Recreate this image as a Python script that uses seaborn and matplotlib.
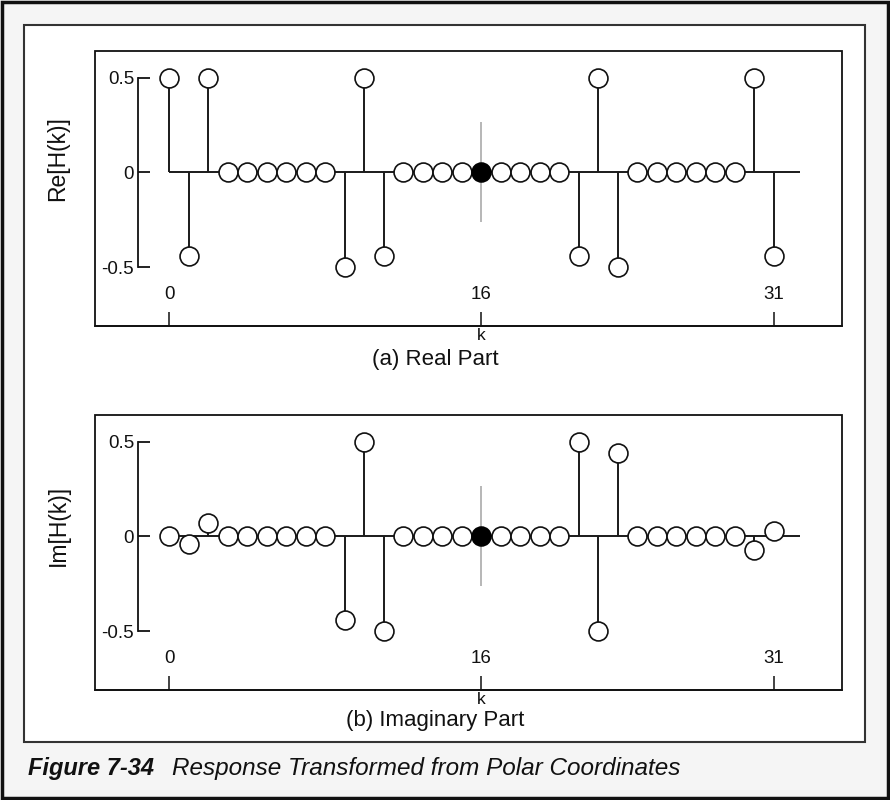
import numpy as np
import matplotlib
matplotlib.use('Agg')
import matplotlib.pyplot as plt
import seaborn as sns
from matplotlib.patches import Rectangle

# DFT bins and the two parts of H(k)
k_vals = list(range(32))
re_vals = [0.5, -0.44, 0.5, 0, 0, 0, 0, 0, 0, -0.5, 0.5, -0.44, 0, 0, 0, 0,
           0, 0, 0, 0, 0, -0.44, 0.5, -0.5, 0, 0, 0, 0, 0, 0, 0.5, -0.44]
im_vals = [0, -0.04, 0.07, 0, 0, 0, 0, 0, 0, -0.44, 0.5, -0.5, 0, 0, 0, 0,
           0, 0, 0, 0, 0, 0.5, -0.5, 0.44, 0, 0, 0, 0, 0, 0, -0.07, 0.03]
filled_k = 16
x_ticks = [0, 16, 31]
y_ticks = [-0.5, 0, 0.5]
y_ticklabels = ['-0.5', '0', '0.5']
panel_ylabels = ['Re[H(k)]', 'Im[H(k)]']
panel_titles = ['(a) Real Part', '(b) Imaginary Part']

sns.set_theme(style='white')
plt.rcParams['font.family'] = ['Liberation Sans', 'DejaVu Sans']

fig = plt.figure(figsize=(8.9, 8), dpi=100)
fig.patch.set_facecolor('#f5f5f5')

# outer frame and white panel
fig.patches.append(Rectangle((0.002, 0.003), 0.996, 0.994, transform=fig.transFigure,
                             fill=False, edgecolor='#111111', linewidth=2.5, zorder=-2))
fig.patches.append(Rectangle((24 / 890, 1 - 742 / 800), 841 / 890, 717 / 800,
                             transform=fig.transFigure, facecolor='white',
                             edgecolor='#333333', linewidth=1.5, zorder=-1))

boxes = [(95, 51, 842, 326), (95, 415, 842, 690)]
title_y = [-0.12, -0.112]
ylabel_y = [159, 525]

for i, vals in enumerate([re_vals, im_vals]):
    x0, y0, x1, y1 = boxes[i]
    ax = fig.add_axes([x0 / 890, 1 - y1 / 800, (x1 - x0) / 890, (y1 - y0) / 800])
    ax.set_facecolor('none')

    # baseline, stems and the gray marker line at k=16
    ax.hlines(0, 0, 32.33, color='#1a1a1a', linewidth=1.4, zorder=2)
    ax.vlines(k_vals, 0, vals, color='#1a1a1a', linewidth=1.4, zorder=2)
    ax.vlines(filled_k, -0.26, 0.265, color='#aaaaaa', linewidth=1.2, zorder=1)

    open_k = [k for k in k_vals if k != filled_k]
    open_v = [vals[k] for k in open_k]
    sns.scatterplot(x=open_k, y=open_v, s=185, color='white', edgecolor='#111111',
                    linewidth=1.2, zorder=3, ax=ax, legend=False)
    sns.scatterplot(x=[filled_k], y=[vals[filled_k]], s=185, color='black',
                    edgecolor='black', linewidth=1.2, zorder=4, ax=ax, legend=False)

    ax.set_xlim(-3.81, 34.49)
    ax.set_ylim(-0.81, 0.64)

    # box around the panel
    ax.add_patch(Rectangle((0, 0), 1, 1, transform=ax.transAxes, fill=False,
                           edgecolor='#111111', linewidth=1.3, clip_on=False, zorder=5))
    for side in ['top', 'right']:
        ax.spines[side].set_visible(False)
    ax.spines['bottom'].set_color('#111111')
    ax.spines['left'].set_position(('data', -1.59))
    ax.spines['left'].set_bounds(-0.5, 0.5)
    ax.spines['left'].set_color('#111111')
    ax.spines['left'].set_linewidth(1.3)

    ax.set_yticks(y_ticks)
    ax.set_yticklabels(y_ticklabels)
    ax.set_xticks(x_ticks)
    ax.set_xticklabels([str(t) for t in x_ticks])
    ax.tick_params(axis='y', direction='in', length=8.5, width=1.3, pad=3,
                   labelsize=13.5, colors='#111111', left=True)
    ax.tick_params(axis='x', direction='in', length=10, width=1.1, pad=-29,
                   labelsize=13.5, colors='#111111', bottom=True)
    ax.set_xlabel('')
    ax.set_ylabel('')

    ax.annotate('k', xy=(filled_k, -0.006), xycoords=('data', 'axes fraction'),
                ha='center', va='top', fontsize=12.5, color='#111111', annotation_clip=False)
    ax.text(0.455, title_y[i], panel_titles[i], transform=ax.transAxes,
            ha='center', va='center', fontsize=16, color='#111111')
    fig.text(58 / 890, 1 - ylabel_y[i] / 800, panel_ylabels[i], rotation=90,
             ha='center', va='center', fontsize=16.5, color='#111111')

fig.text(28 / 890, 1 - 769 / 800, 'Figure 7-34', fontsize=17, fontweight='bold',
         fontstyle='italic', ha='left', va='center', color='#111111')
fig.text(172 / 890, 1 - 769 / 800, 'Response Transformed from Polar Coordinates',
         fontsize=17.5, fontstyle='italic', ha='left', va='center', color='#111111')

fig.savefig('out.png', dpi=100, facecolor=fig.get_facecolor())
